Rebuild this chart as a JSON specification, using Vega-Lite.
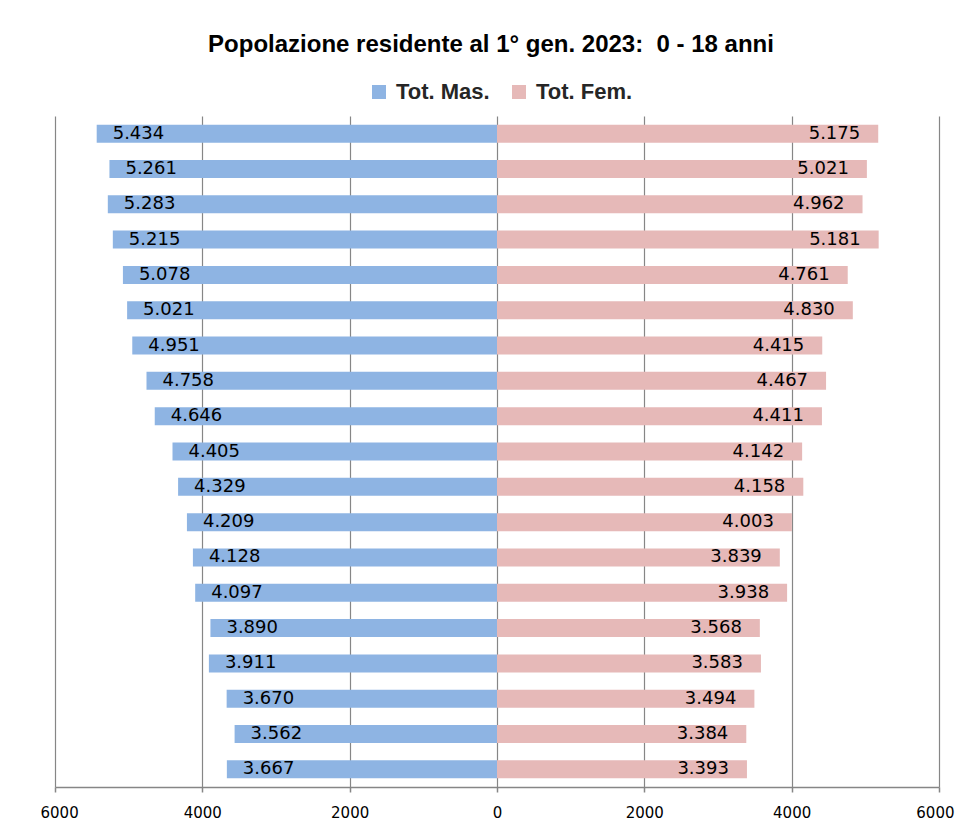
{
  "$schema": "https://vega.github.io/schema/vega-lite/v6.json",
  "autosize": {"type": "none"},
  "padding": {"left": 55, "top": 116, "right": 17, "bottom": 50},
  "width": 884,
  "height": 671,
  "background": "white",
  "title": {
    "text": "Popolazione residente al 1° gen. 2023:\u00a0 0 - 18 anni",
    "font": "Liberation Sans",
    "fontSize": 24,
    "fontWeight": "bold",
    "color": "#000000",
    "anchor": "middle",
    "frame": "group",
    "offset": 24,
    "dx": -6
  },
  "data": {
    "values": [
      {"age": 18, "sex": "Tot. Mas.", "value": 5434},
      {"age": 17, "sex": "Tot. Mas.", "value": 5261},
      {"age": 16, "sex": "Tot. Mas.", "value": 5283},
      {"age": 15, "sex": "Tot. Mas.", "value": 5215},
      {"age": 14, "sex": "Tot. Mas.", "value": 5078},
      {"age": 13, "sex": "Tot. Mas.", "value": 5021},
      {"age": 12, "sex": "Tot. Mas.", "value": 4951},
      {"age": 11, "sex": "Tot. Mas.", "value": 4758},
      {"age": 10, "sex": "Tot. Mas.", "value": 4646},
      {"age": 9, "sex": "Tot. Mas.", "value": 4405},
      {"age": 8, "sex": "Tot. Mas.", "value": 4329},
      {"age": 7, "sex": "Tot. Mas.", "value": 4209},
      {"age": 6, "sex": "Tot. Mas.", "value": 4128},
      {"age": 5, "sex": "Tot. Mas.", "value": 4097},
      {"age": 4, "sex": "Tot. Mas.", "value": 3890},
      {"age": 3, "sex": "Tot. Mas.", "value": 3911},
      {"age": 2, "sex": "Tot. Mas.", "value": 3670},
      {"age": 1, "sex": "Tot. Mas.", "value": 3562},
      {"age": 0, "sex": "Tot. Mas.", "value": 3667},
      {"age": 18, "sex": "Tot. Fem.", "value": 5175},
      {"age": 17, "sex": "Tot. Fem.", "value": 5021},
      {"age": 16, "sex": "Tot. Fem.", "value": 4962},
      {"age": 15, "sex": "Tot. Fem.", "value": 5181},
      {"age": 14, "sex": "Tot. Fem.", "value": 4761},
      {"age": 13, "sex": "Tot. Fem.", "value": 4830},
      {"age": 12, "sex": "Tot. Fem.", "value": 4415},
      {"age": 11, "sex": "Tot. Fem.", "value": 4467},
      {"age": 10, "sex": "Tot. Fem.", "value": 4411},
      {"age": 9, "sex": "Tot. Fem.", "value": 4142},
      {"age": 8, "sex": "Tot. Fem.", "value": 4158},
      {"age": 7, "sex": "Tot. Fem.", "value": 4003},
      {"age": 6, "sex": "Tot. Fem.", "value": 3839},
      {"age": 5, "sex": "Tot. Fem.", "value": 3938},
      {"age": 4, "sex": "Tot. Fem.", "value": 3568},
      {"age": 3, "sex": "Tot. Fem.", "value": 3583},
      {"age": 2, "sex": "Tot. Fem.", "value": 3494},
      {"age": 1, "sex": "Tot. Fem.", "value": 3384},
      {"age": 0, "sex": "Tot. Fem.", "value": 3393}
    ]
  },
  "transform": [
    {"calculate": "datum.sex === 'Tot. Mas.' ? -datum.value : datum.value", "as": "signed"}
  ],
  "encoding": {
    "y": {
      "field": "age",
      "type": "ordinal",
      "sort": "descending",
      "axis": null,
      "scale": {"paddingInner": 0.49, "paddingOuter": 0.245}
    },
    "x": {
      "field": "signed",
      "type": "quantitative",
      "scale": {"domain": [-6000, 6000], "nice": false, "zero": false},
      "axis": {
        "title": null,
        "values": [-6000, -4000, -2000, 0, 2000, 4000, 6000],
        "labelExpr": "format(abs(datum.value), 'd')",
        "grid": true,
        "gridColor": "#868686",
        "gridWidth": 1.2,
        "gridOpacity": 1,
        "domainColor": "#868686",
        "domainWidth": 1.5,
        "tickColor": "#868686",
        "tickWidth": 1.5,
        "tickSize": 5,
        "labelFont": "DejaVu Sans",
        "labelFontSize": 15,
        "labelColor": "#000000",
        "labelPadding": 13,
        "labelFlush": true,
        "labelFlushOffset": 15,
        "labelOverlap": false
      }
    }
  },
  "layer": [
    {
      "mark": {"type": "bar"},
      "encoding": {
        "color": {
          "field": "sex",
          "type": "nominal",
          "scale": {"domain": ["Tot. Mas.", "Tot. Fem."], "range": ["#8EB4E3", "#E6B9B8"]},
          "legend": {
            "title": null,
            "orient": "none",
            "direction": "horizontal",
            "legendX": 313,
            "legendY": -35,
            "symbolType": "square",
            "symbolSize": 196,
            "symbolStrokeWidth": 0,
            "labelFont": "Liberation Sans",
            "labelFontSize": 22,
            "labelFontWeight": "bold",
            "labelColor": "#262626",
            "labelOffset": 6,
            "columnPadding": 18
          }
        }
      }
    },
    {
      "transform": [{"filter": "datum.sex === 'Tot. Mas.'"}],
      "mark": {"type": "text", "align": "left", "baseline": "middle", "dx": 16, "font": "DejaVu Sans", "fontSize": 18, "color": "#000000"},
      "encoding": {"text": {"field": "value", "type": "quantitative", "format": ",d"}}
    },
    {
      "transform": [{"filter": "datum.sex === 'Tot. Fem.'"}],
      "mark": {"type": "text", "align": "right", "baseline": "middle", "dx": -18, "font": "DejaVu Sans", "fontSize": 18, "color": "#000000"},
      "encoding": {"text": {"field": "value", "type": "quantitative", "format": ",d"}}
    }
  ],
  "config": {
    "view": {"stroke": null},
    "locale": {"number": {"decimal": ",", "thousands": ".", "grouping": [3], "currency": ["€", ""]}}
  }
}
